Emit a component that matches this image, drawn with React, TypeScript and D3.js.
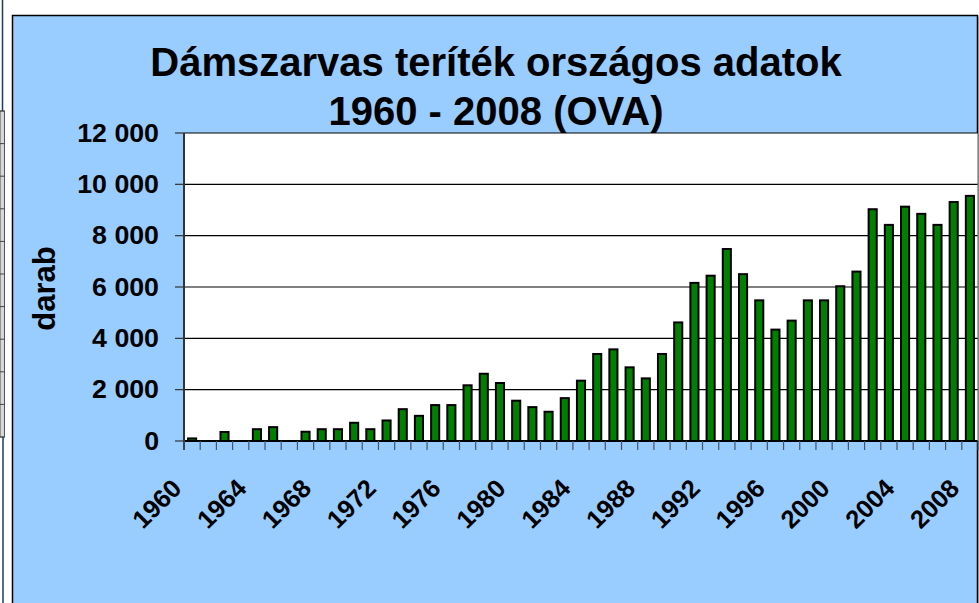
import React from "react";
import * as d3 from "d3";

const years: string[] = [
  "1960","1961","1962","1963","1964","1965","1966","1967","1968","1969",
  "1970","1971","1972","1973","1974","1975","1976","1977","1978","1979",
  "1980","1981","1982","1983","1984","1985","1986","1987","1988","1989",
  "1990","1991","1992","1993","1994","1995","1996","1997","1998","1999",
  "2000","2001","2002","2003","2004","2005","2006","2007","2008",
];

const values: number[] = [
  100, 0, 350, 0, 460, 540, 0, 360, 460, 460,
  710, 460, 800, 1240, 980, 1400, 1400, 2170, 2620, 2260,
  1570, 1320, 1140, 1670, 2350, 3390, 3570, 2870, 2440, 3390,
  4620, 6160, 6440, 7480, 6500, 5480, 4340, 4690, 5480, 5480,
  6030, 6600, 9030, 8420, 9130, 8850, 8420, 9310, 9550,
];

const xTickLabels: string[] = [
  "1960","1964","1968","1972","1976","1980","1984","1988","1992","1996","2000","2004","2008",
];

const yTicks: number[] = [0, 2000, 4000, 6000, 8000, 10000, 12000];
const yTickLabels: string[] = ["0", "2 000", "4 000", "6 000", "8 000", "10 000", "12 000"];

const titleLines: string[] = ["Dámszarvas teríték országos adatok", "1960 - 2008 (OVA)"];
const yAxisTitle = "darab";

const FONT = "Arial, 'Liberation Sans', sans-serif";

export default function App() {
  const W = 979, H = 603;
  const left = 184, right = 978, top = 133, bottom = 441;

  const x = d3.scaleBand<string>().domain(years).range([left, right]).paddingInner(0.5).paddingOuter(0.25);
  const y = d3.scaleLinear().domain([0, 12000]).range([bottom, top]);
  const step = x.step();
  const boundaries = d3.range(years.length + 1).map((i) => left + i * step);

  const cellYs = d3.range(11).map((i) => 111 + i * 32.6);

  return (
    <svg width={W} height={H} style={{ position: "absolute", left: 0, top: 0, background: "#fff" }} fontFamily={FONT}>
      <rect x={0} y={0} width={W} height={H} fill="#fff" />
      {/* left spreadsheet strip */}
      <line x1={2.5} y1={0} x2={2.5} y2={111} stroke="#1f3a6e" strokeWidth={1.5} />
      <rect x={0} y={111} width={4.5} height={326} fill="#d8d8d8" stroke="#555" strokeWidth={1} />
      {cellYs.map((cy, i) => (
        <line key={"c" + i} x1={0} x2={4.5} y1={cy} y2={cy} stroke="#444" strokeWidth={1} />
      ))}
      <line x1={3} y1={437} x2={3} y2={H} stroke="#1f3a6e" strokeWidth={1.5} />

      {/* chart area */}
      <rect x={12.5} y={15.5} width={965} height={620} fill="#99CCFF" stroke="#000" strokeWidth={1.5} />
      <line x1={978.8} y1={17} x2={978.8} y2={H} stroke="#888" strokeWidth={1.2} />

      {/* title */}
      {titleLines.map((t, i) => (
        <text key={"t" + i} x={496} y={i === 0 ? 76 : 125} textAnchor="middle"
          fontSize={40} fontWeight="bold" fill="#000">{t}</text>
      ))}

      {/* plot area */}
      <rect x={left} y={top} width={right - left} height={bottom - top} fill="#fff" />
      {yTicks.map((t, i) => (
        <g key={"g" + i}>
          <line x1={left} x2={right} y1={y(t)} y2={y(t)} stroke="#000" strokeWidth={t === 0 ? 1.8 : 1.2} />
          <line x1={175} x2={left} y1={y(t)} y2={y(t)} stroke="#333" strokeWidth={1.2} />
          <text transform={`translate(159,${y(t) + 8.5}) scale(1.07,1)`} textAnchor="end" fontSize={25} fontWeight="bold" fill="#000">
            {yTickLabels[i]}
          </text>
        </g>
      ))}
      <line x1={right} x2={right} y1={top} y2={bottom} stroke="#777" strokeWidth={1.2} />
      <line x1={left} x2={left} y1={top} y2={450} stroke="#333" strokeWidth={2} />

      {/* x ticks */}
      {boundaries.map((bx, i) => (
        <line key={"xt" + i} x1={bx} x2={bx} y1={bottom} y2={450} stroke="#445566" strokeWidth={1.2} />
      ))}

      {/* bars */}
      {years.map((yr, i) =>
        values[i] > 0 ? (
          <rect key={"b" + yr} x={x(yr)!} y={y(values[i])} width={x.bandwidth()} height={bottom - y(values[i])}
            fill="#008000" stroke="#000" strokeWidth={2} />
        ) : null
      )}

      {/* x labels */}
      {xTickLabels.map((lab) => {
        const cx = x(lab)! + x.bandwidth() / 2 - 9;
        return (
          <text key={"xl" + lab} transform={`translate(${cx},490) rotate(-45)`} textAnchor="end"
            fontSize={25.5} fontWeight="bold" fill="#000">{lab}</text>
        );
      })}

      {/* y axis title */}
      <text transform="translate(55,288.5) rotate(-90)" textAnchor="middle" fontSize={31} fontWeight="bold" fill="#000">
        {yAxisTitle}
      </text>
    </svg>
  );
}
